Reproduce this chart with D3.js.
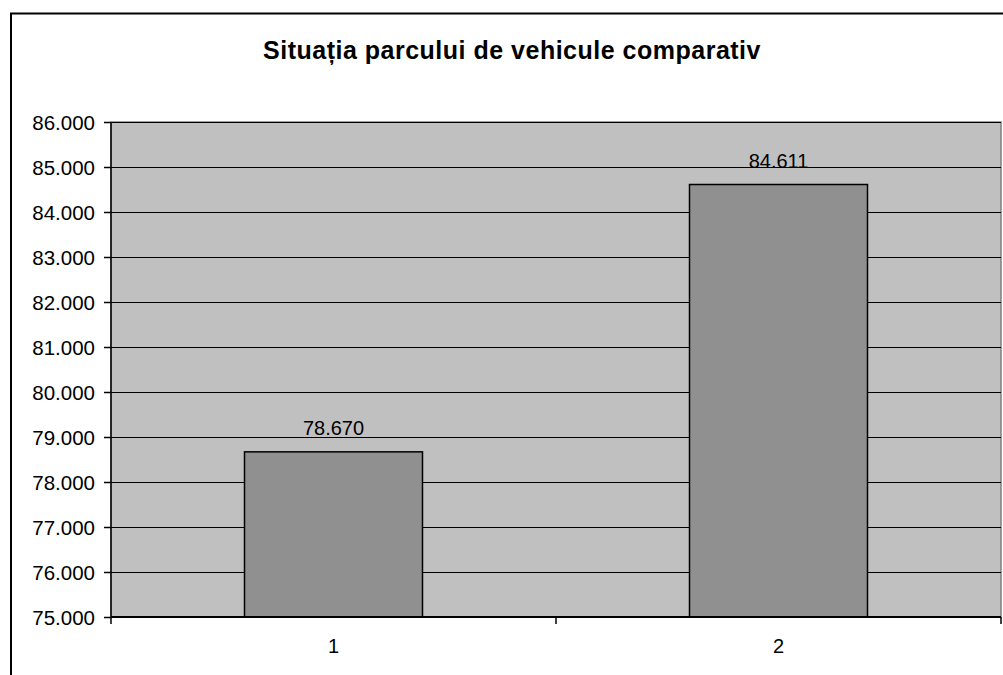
<!DOCTYPE html>
<html><head><meta charset="utf-8">
<script src="https://cdn.jsdelivr.net/npm/d3@7"></script>
<style>body{margin:0;background:#fff;} svg{display:block;}</style>
</head><body>
<svg id="c" width="1003" height="675"></svg>
<script>
const categories = ["1", "2"];
const values = [78670, 84611];
const valueLabels = ["78.670", "84.611"];
const yTicks = [75000, 76000, 77000, 78000, 79000, 80000, 81000, 82000, 83000, 84000, 85000, 86000];
const title = "Situația parcului de vehicule comparativ";

const svg = d3.select("#c");
const font = "Liberation Sans, Arial, sans-serif";
const L = 111, R = 1001, T = 122, B = 617;

// outer chart border
svg.append("path").attr("d", `M11,675 V13.5 H1003`).attr("fill", "none").attr("stroke", "#000").attr("stroke-width", 2);

const x = d3.scaleBand().domain(categories).range([L, R]).paddingInner(0).paddingOuter(0);
const y = d3.scaleLinear().domain([75000, 86000]).range([B, T]);

// plot area
svg.append("rect").attr("x", L).attr("y", T).attr("width", R - L).attr("height", B - T)
  .attr("fill", "#c0c0c0").attr("stroke", "#808080").attr("stroke-width", 1.5);

// gridlines
svg.append("g").selectAll("line").data(yTicks.slice(1)).join("line")
  .attr("x1", L).attr("x2", R).attr("y1", d => Math.round(y(d)) + 0.5).attr("y2", d => Math.round(y(d)) + 0.5)
  .attr("stroke", "#000").attr("stroke-width", 1);

// bars
const bw = x.bandwidth() / 2.5;
svg.append("g").selectAll("rect").data(values).join("rect")
  .attr("x", (d, i) => x(categories[i]) + (x.bandwidth() - bw) / 2)
  .attr("y", d => y(d))
  .attr("width", bw)
  .attr("height", d => B - y(d))
  .attr("fill", "#909090").attr("stroke", "#000").attr("stroke-width", 1.5);

// data labels
svg.append("g").selectAll("text").data(values).join("text")
  .attr("x", (d, i) => x(categories[i]) + x.bandwidth() / 2)
  .attr("y", d => y(d) - 17)
  .attr("text-anchor", "middle")
  .attr("font-family", font).attr("font-size", 20).attr("fill", "#000")
  .text((d, i) => valueLabels[i]);

// y axis
const yAxis = d3.axisLeft(y).tickValues(yTicks).tickSize(7).tickPadding(9)
  .tickFormat(d => d3.format(",")(d).replace(/,/g, "."));
const gy = svg.append("g").attr("transform", `translate(${L},0)`).call(yAxis);
gy.select(".domain").attr("stroke", "#000").attr("stroke-width", 1.5).attr("d", `M0,${T}V${B}`);
gy.selectAll(".tick line").attr("stroke", "#000").attr("stroke-width", 1.5);
gy.selectAll(".tick text").attr("font-family", font).attr("font-size", 20.5).attr("fill", "#000").attr("dy", "0.35em");

// x axis
const gx = svg.append("g").attr("transform", `translate(0,${B})`);
gx.append("line").attr("x1", L).attr("x2", R).attr("stroke", "#000").attr("stroke-width", 2);
const bounds = [L, x("2"), R];
gx.selectAll(".tk").data(bounds).join("line").attr("class", "tk")
  .attr("x1", d => d).attr("x2", d => d).attr("y1", 0).attr("y2", 7)
  .attr("stroke", "#000").attr("stroke-width", 1.5);
gx.selectAll("text").data(categories).join("text")
  .attr("x", d => x(d) + x.bandwidth() / 2).attr("y", 36)
  .attr("text-anchor", "middle").attr("font-family", font).attr("font-size", 20).attr("fill", "#000")
  .text(d => d);

// title
svg.append("text").attr("x", 512).attr("y", 59).attr("text-anchor", "middle")
  .attr("font-family", font).attr("font-size", 25).attr("letter-spacing", 0.5).attr("font-weight", "bold").attr("fill", "#000")
  .text(title);
</script>
</body></html>
